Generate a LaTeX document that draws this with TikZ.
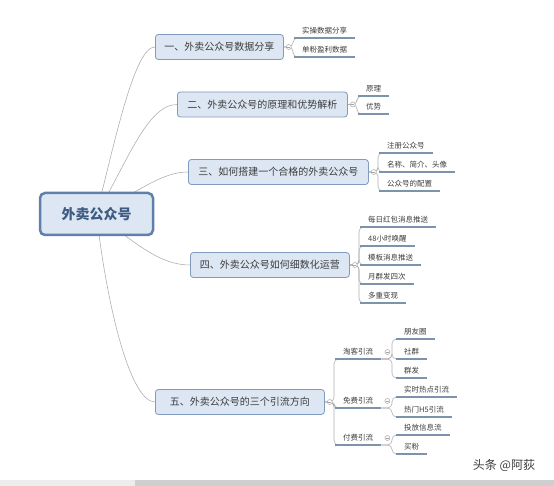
\documentclass[tikz,border=0pt]{standalone}
\usepackage{fontspec}
\setmainfont{Noto Sans CJK SC}
\usetikzlibrary{backgrounds}

\definecolor{boxfill}{HTML}{DDE7F3}
\definecolor{topicedge}{HTML}{7F9BBE}
\definecolor{rootedge}{HTML}{5F80AA}
\definecolor{roottext}{HTML}{3E5B82}
\definecolor{textgray}{HTML}{3C3C3C}
\definecolor{linegray}{HTML}{B0B0B0}
\definecolor{ulblue}{HTML}{7D93AC}
\definecolor{knobgray}{HTML}{A5A5A5}

\tikzset{
  curve/.style={draw=linegray, line width=0.6pt},
  brace/.style={draw=linegray, line width=0.6pt, rounded corners=4.5pt},
  uline/.style={draw=ulblue, line width=1.5pt},
  rootbox/.style={draw=rootedge, fill=boxfill, line width=2.5pt, rounded corners=5pt,
    minimum width=113pt, minimum height=42pt, text=roottext,
    font=\fontsize{14}{16}\selectfont\bfseries},
  topic/.style={draw=topicedge, fill=boxfill, line width=0.8pt, rounded corners=3pt,
    anchor=west, minimum height=25pt, inner xsep=4pt, text=textgray},
  leaf/.style={anchor=south west, inner xsep=8pt, inner ysep=3.5pt, text=textgray,
    font=\fontsize{7.5}{9}\selectfont},
  knob/.style={circle, draw=knobgray, fill=white, line width=0.5pt, minimum size=5pt,
    inner sep=0pt, path picture={\draw[knobgray, line width=0.4pt]
      ([xshift=1pt]path picture bounding box.west) --
      ([xshift=-1pt]path picture bounding box.east);}}
}

\begin{document}
\begin{tikzpicture}[x=1pt, y=-1pt, font=\fontsize{10}{12}\selectfont]
  \useasboundingbox (0,0) rectangle (554,486);
  % --- root and main topics ---
  \node[rootbox] (root) at (96.5,214) {外卖公众号};
  \node[topic, minimum width=128pt] (t1) at (155,47) {一、外卖公众号数据分享};
  \node[topic, minimum width=170pt] (t2) at (177,104.5) {二、外卖公众号的原理和优势解析};
  \node[topic, minimum width=180pt] (t3) at (188,172) {三、如何搭建一个合格的外卖公众号};
  \node[topic, minimum width=159pt] (t4) at (190,265) {四、外卖公众号如何细数化运营};
  \node[topic, minimum width=169pt] (t5) at (155,402) {五、外卖公众号的三个引流方向};
  % --- curves from the root ---
  \begin{pgfonlayer}{background}
    \draw[curve] (root.center) .. controls +(20,-80) and +(-20,0) .. (t1.west);
    \draw[curve] (root.center) .. controls +(30,-50) and +(-30,0) .. (t2.west);
    \draw[curve] (root.center) .. controls +(45,-25) and +(-25,0) .. (t3.west);
    \draw[curve] (root.center) .. controls +(40,30) and +(-30,0) .. (t4.west);
    \draw[curve] (root.center) .. controls +(10,90) and +(-25,0) .. (t5.west);
  \end{pgfonlayer}

  % --- leaves of topic one ---
  \node[leaf] (a1) at (294,38) {实操数据分享};
  \node[leaf] (a2) at (294,57) {单粉盈利数据};
  % --- leaves of topic two ---
  \node[leaf] (b1) at (358,96) {原理};
  \node[leaf] (b2) at (358,114) {优势};
  % --- leaves of topic three ---
  \node[leaf] (c1) at (379,153) {注册公众号};
  \node[leaf] (c2) at (379,172) {名称、简介、头像};
  \node[leaf] (c3) at (379,191) {公众号的配置};
  % --- leaves of topic four ---
  \node[leaf] (d1) at (360,227) {每日红包消息推送};
  \node[leaf] (d2) at (360,246) {48小时唤醒};
  \node[leaf] (d3) at (360,265) {模板消息推送};
  \node[leaf] (d4) at (360,284) {月群发四次};
  \node[leaf] (d5) at (360,303) {多重变现};
  % --- topic five: three ways, then their leaves ---
  \node[leaf] (m1) at (335,359) {淘客引流};
  \node[leaf] (m2) at (335,408) {免费引流};
  \node[leaf] (m3) at (335,445) {付费引流};
  \node[leaf] (p1) at (396,339) {朋友圈};
  \node[leaf] (p2) at (396,359) {社群};
  \node[leaf] (p3) at (396,378) {群发};
  \node[leaf] (q1) at (396,397) {实时热点引流};
  \node[leaf] (q2) at (396,417) {热门H5引流};
  \node[leaf] (r1) at (396,435) {投放信息流};
  \node[leaf] (r2) at (396,454) {买粉};

  % --- braces ---
  \foreach \from/\to in {t1/a1, t1/a2, t2/b1, t2/b2, t3/c1, t3/c2, t3/c3,
      t4/d1, t4/d2, t4/d3, t4/d4, t4/d5, t5/m1, t5/m2, t5/m3}
    \draw[brace] (\from.east) -| ([xshift=-1pt]\to.south west)
      -- ([xshift=8pt]\to.south west);
  \foreach \from/\to in {m1/p1, m1/p2, m1/p3, m2/q1, m2/q2, m3/r1, m3/r2}
    \draw[brace] (\from.south east) -| ([xshift=-4pt]\to.south west)
      -- ([xshift=8pt]\to.south west);
  % --- underlines ---
  \foreach \n in {a1, a2, b1, b2, c1, c2, c3, d1, d2, d3, d4, d5,
      m1, m2, m3, p1, p2, p3, q1, q2, r1, r2}
    \draw[uline] (\n.south west) -- (\n.south east);
  % --- collapse knobs ---
  \foreach \t in {t1, t2, t3, t4, t5}
    \node[knob] (k\t) at ([xshift=5pt]\t.east) {};
  \foreach \m in {m1, m2, m3}
    \node[knob] (k\m) at ([xshift=6pt, yshift=7pt]\m.south east) {};

  % --- watermark and bottom bar ---
  \node[text=textgray, font=\fontsize{12}{14}\selectfont] (mark) at (504,465) {头条 @阿荻};
  \fill[black!7] (0,480) rectangle (135,486);
  \fill[black!19] (135,480) rectangle (554,486);
\end{tikzpicture}
\end{document}
